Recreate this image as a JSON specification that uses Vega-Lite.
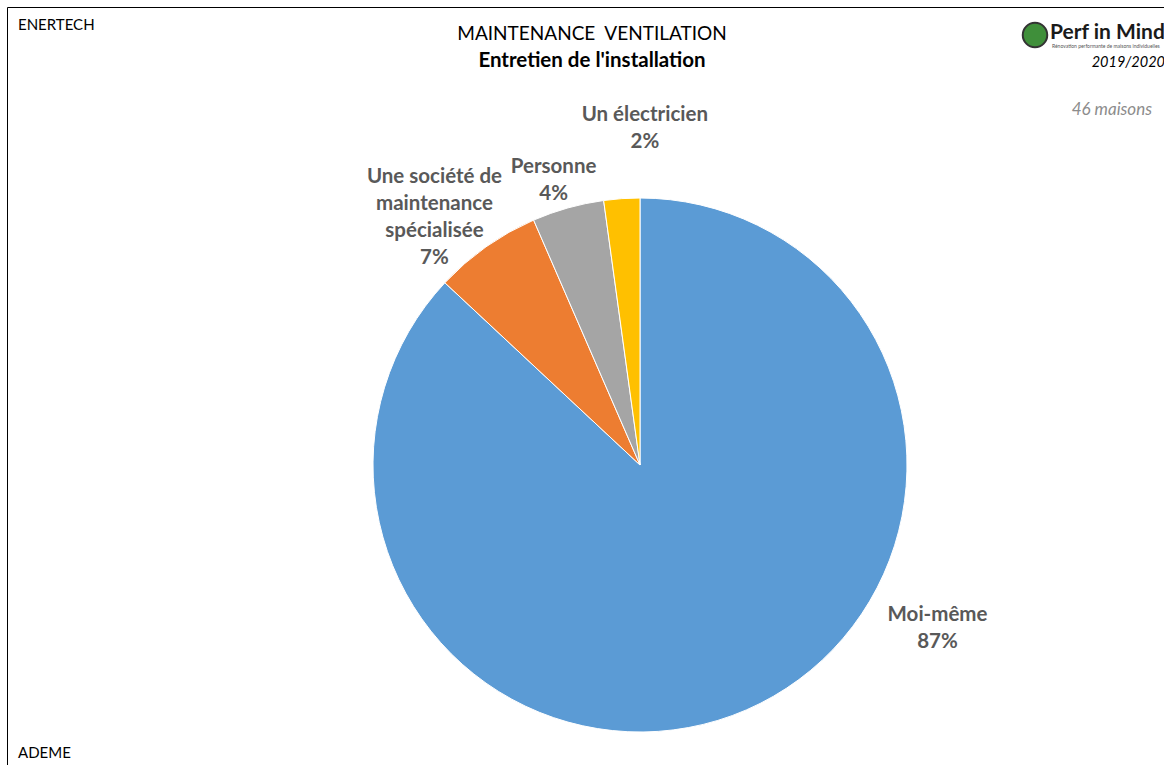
{
  "$schema": "https://vega.github.io/schema/vega-lite/v6.json",
  "width": 1157,
  "height": 758,
  "padding": {"left": 7, "top": 7, "right": 0, "bottom": 0},
  "autosize": "none",
  "background": "white",
  "config": {"view": {"stroke": null}, "font": "Lato"},
  "datasets": {
    "parts": [
      {"qui": "Moi-même", "n": 40, "lab": "Moi-même\n87%", "rang": 1},
      {"qui": "Une société de maintenance spécialisée", "n": 3, "lab": "Une société de\nmaintenance\nspécialisée\n7%", "rang": 2},
      {"qui": "Personne", "n": 2, "lab": "Personne\n4%", "rang": 3},
      {"qui": "Un électricien", "n": 1, "lab": "Un électricien\n2%", "rang": 4}
    ]
  },
  "layer": [
    {
      "data": {"values": [{"f": 1}]},
      "mark": {"type": "rect", "fill": null, "stroke": "black", "strokeWidth": 1},
      "encoding": {
        "x": {"value": 0.5}, "x2": {"value": 1400},
        "y": {"value": 0.5}, "y2": {"value": 1000}
      }
    },
    {
      "data": {"name": "parts"},
      "mark": {"type": "arc", "outerRadius": 267, "stroke": "white", "strokeWidth": 1, "x": 633, "y": 458},
      "encoding": {
        "theta": {"field": "n", "type": "quantitative", "stack": true},
        "order": {"field": "rang", "type": "quantitative"},
        "color": {
          "field": "qui", "type": "nominal", "legend": null,
          "scale": {
            "domain": ["Moi-même", "Une société de maintenance spécialisée", "Personne", "Un électricien"],
            "range": ["#5B9BD5", "#ED7D31", "#A5A5A5", "#FFC000"]
          }
        }
      }
    },
    {
      "data": {"name": "parts"},
      "mark": {"type": "text", "x": 633, "y": 458, "radius": 300, "dx": 178, "dy": -125, "lineBreak": "\n", "lineHeight": 27, "font": "Lato", "fontWeight": "bold", "fontSize": 20.5, "fill": "#595959", "align": "center", "baseline": "middle"},
      "encoding": {
        "theta": {"field": "n", "type": "quantitative", "stack": true},
        "order": {"field": "rang", "type": "quantitative"},
        "text": {"field": "lab", "type": "nominal"},
        "opacity": {"condition": {"test": "datum.rang === 1", "value": 1}, "value": 0}
      }
    },
    {
      "data": {"name": "parts"},
      "mark": {"type": "text", "x": 633, "y": 458, "radius": 320, "dx": -21, "dy": -27, "lineBreak": "\n", "lineHeight": 27, "font": "Lato", "fontWeight": "bold", "fontSize": 20.5, "fill": "#595959", "align": "center", "baseline": "middle"},
      "encoding": {
        "theta": {"field": "n", "type": "quantitative", "stack": true},
        "order": {"field": "rang", "type": "quantitative"},
        "text": {"field": "lab", "type": "nominal"},
        "opacity": {"condition": {"test": "datum.rang === 2", "value": 1}, "value": 0}
      }
    },
    {
      "data": {"name": "parts"},
      "mark": {"type": "text", "x": 633, "y": 458, "radius": 298, "dx": -6, "dy": -11, "lineBreak": "\n", "lineHeight": 27, "font": "Lato", "fontWeight": "bold", "fontSize": 20.5, "fill": "#595959", "align": "center", "baseline": "middle"},
      "encoding": {
        "theta": {"field": "n", "type": "quantitative", "stack": true},
        "order": {"field": "rang", "type": "quantitative"},
        "text": {"field": "lab", "type": "nominal"},
        "opacity": {"condition": {"test": "datum.rang === 3", "value": 1}, "value": 0}
      }
    },
    {
      "data": {"name": "parts"},
      "mark": {"type": "text", "x": 633, "y": 458, "radius": 339, "dx": 28, "dy": -12, "lineBreak": "\n", "lineHeight": 27, "font": "Lato", "fontWeight": "bold", "fontSize": 20.5, "fill": "#595959", "align": "center", "baseline": "middle"},
      "encoding": {
        "theta": {"field": "n", "type": "quantitative", "stack": true},
        "order": {"field": "rang", "type": "quantitative"},
        "text": {"field": "lab", "type": "nominal"},
        "opacity": {"condition": {"test": "datum.rang === 4", "value": 1}, "value": 0}
      }
    },
    {
      "data": {"values": [{"t": "ENERTECH"}]},
      "mark": {"type": "text", "align": "left", "baseline": "middle", "fontSize": 15, "fill": "black"},
      "encoding": {"x": {"value": 11}, "y": {"value": 18}, "text": {"field": "t"}}
    },
    {
      "data": {"values": [{"t": "ADEME"}]},
      "mark": {"type": "text", "align": "left", "baseline": "middle", "fontSize": 15, "fill": "black"},
      "encoding": {"x": {"value": 11}, "y": {"value": 746}, "text": {"field": "t"}}
    },
    {
      "data": {"values": [{"t": "MAINTENANCE\u00a0 VENTILATION"}]},
      "mark": {"type": "text", "align": "center", "baseline": "middle", "fontSize": 19, "fill": "black"},
      "encoding": {"x": {"value": 585}, "y": {"value": 27}, "text": {"field": "t"}}
    },
    {
      "data": {"values": [{"t": "Entretien de l'installation"}]},
      "mark": {"type": "text", "align": "center", "baseline": "middle", "fontSize": 20.5, "fontWeight": "bold", "fill": "black"},
      "encoding": {"x": {"value": 585}, "y": {"value": 54}, "text": {"field": "t"}}
    },
    {
      "data": {"values": [{"t": "logo"}]},
      "mark": {"type": "point", "shape": "circle", "filled": true, "size": 600, "fill": "#3F8F3A", "stroke": "#333333", "strokeWidth": 2, "opacity": 1},
      "encoding": {"x": {"value": 1028}, "y": {"value": 28}}
    },
    {
      "data": {"values": [{"t": "Perf in Mind"}]},
      "mark": {"type": "text", "align": "left", "baseline": "middle", "fontSize": 21, "fontWeight": "bold", "fill": "#1a1a1a"},
      "encoding": {"x": {"value": 1043}, "y": {"value": 26}, "text": {"field": "t"}}
    },
    {
      "data": {"values": [{"t": "Rénovation performante de maisons individuelles"}]},
      "mark": {"type": "text", "align": "left", "baseline": "middle", "fontSize": 5, "fill": "#555555"},
      "encoding": {"x": {"value": 1045}, "y": {"value": 39}, "text": {"field": "t"}}
    },
    {
      "data": {"values": [{"t": "2019/2020"}]},
      "mark": {"type": "text", "align": "right", "baseline": "middle", "fontSize": 14.5, "fontStyle": "italic", "fill": "black"},
      "encoding": {"x": {"value": 1158}, "y": {"value": 56}, "text": {"field": "t"}}
    },
    {
      "data": {"values": [{"t": "46 maisons"}]},
      "mark": {"type": "text", "align": "right", "baseline": "middle", "fontSize": 17, "fontStyle": "italic", "fill": "#8C8C8C"},
      "encoding": {"x": {"value": 1145}, "y": {"value": 103}, "text": {"field": "t"}}
    }
  ]
}
